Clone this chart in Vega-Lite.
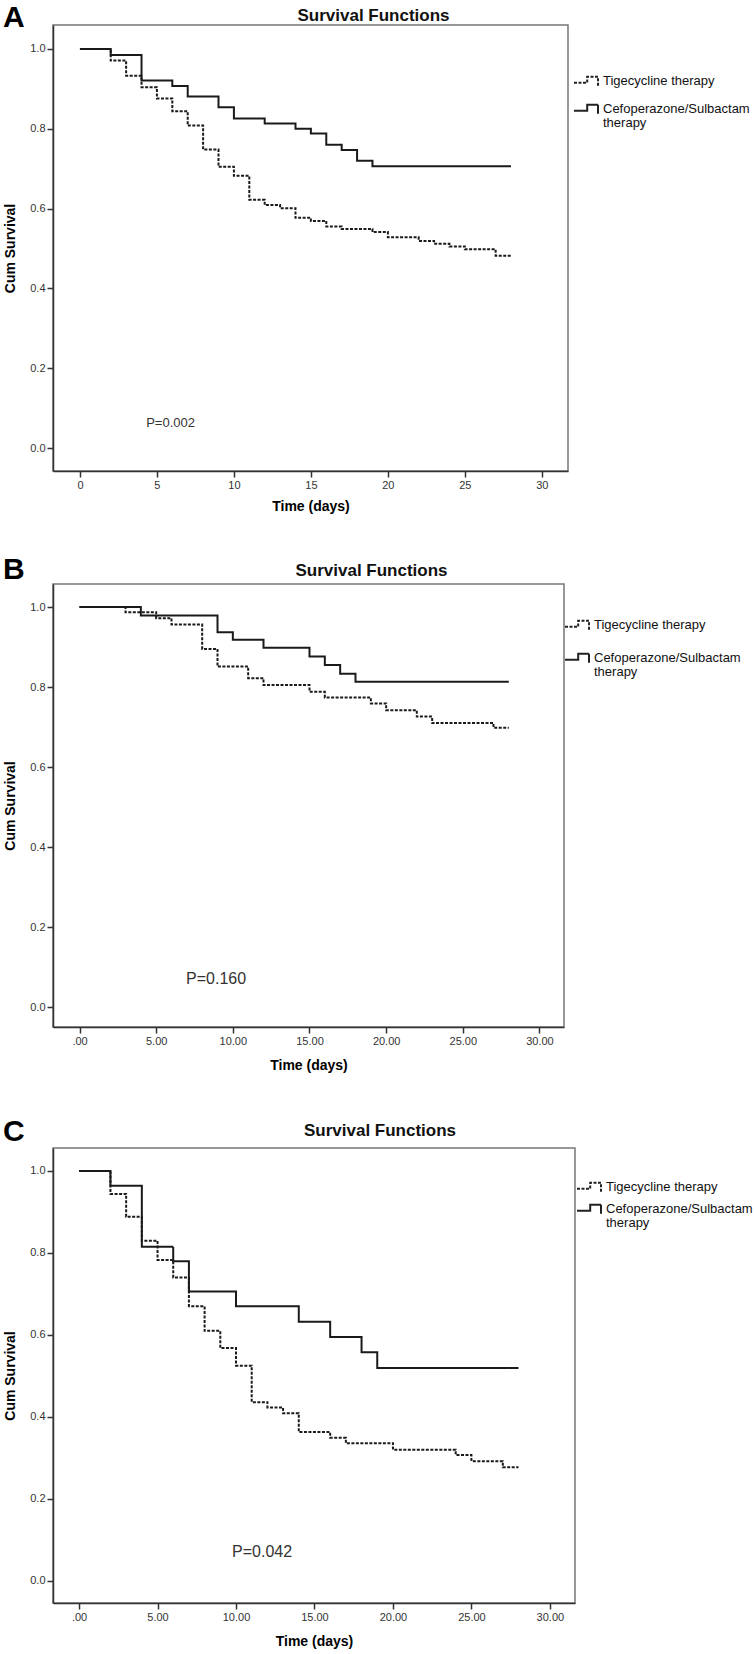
{
  "$schema": "https://vega.github.io/schema/vega-lite/v6.json",
  "padding": {"top": 3, "left": 2, "right": 0, "bottom": 0},
  "background": "white",
  "spacing": 44,
  "datasets": {
    "A": [
      {"group": "Tigecycline therapy", "time": 0, "survival": 1.0},
      {"group": "Tigecycline therapy", "time": 2, "survival": 0.971},
      {"group": "Tigecycline therapy", "time": 3, "survival": 0.933},
      {"group": "Tigecycline therapy", "time": 4, "survival": 0.904},
      {"group": "Tigecycline therapy", "time": 5, "survival": 0.876},
      {"group": "Tigecycline therapy", "time": 6, "survival": 0.844},
      {"group": "Tigecycline therapy", "time": 7, "survival": 0.808},
      {"group": "Tigecycline therapy", "time": 8, "survival": 0.748},
      {"group": "Tigecycline therapy", "time": 9, "survival": 0.705},
      {"group": "Tigecycline therapy", "time": 10, "survival": 0.682},
      {"group": "Tigecycline therapy", "time": 11, "survival": 0.622},
      {"group": "Tigecycline therapy", "time": 12, "survival": 0.609},
      {"group": "Tigecycline therapy", "time": 13, "survival": 0.601},
      {"group": "Tigecycline therapy", "time": 14, "survival": 0.577},
      {"group": "Tigecycline therapy", "time": 15, "survival": 0.569},
      {"group": "Tigecycline therapy", "time": 16, "survival": 0.555},
      {"group": "Tigecycline therapy", "time": 17, "survival": 0.549},
      {"group": "Tigecycline therapy", "time": 19, "survival": 0.541},
      {"group": "Tigecycline therapy", "time": 20, "survival": 0.528},
      {"group": "Tigecycline therapy", "time": 22, "survival": 0.519},
      {"group": "Tigecycline therapy", "time": 23, "survival": 0.512},
      {"group": "Tigecycline therapy", "time": 24, "survival": 0.505},
      {"group": "Tigecycline therapy", "time": 25, "survival": 0.498},
      {"group": "Tigecycline therapy", "time": 27, "survival": 0.482},
      {"group": "Tigecycline therapy", "time": 28, "survival": 0.482},
      {"group": "Cefoperazone/Sulbactam therapy", "time": 0, "survival": 1.0},
      {"group": "Cefoperazone/Sulbactam therapy", "time": 2, "survival": 0.985},
      {"group": "Cefoperazone/Sulbactam therapy", "time": 4, "survival": 0.921},
      {"group": "Cefoperazone/Sulbactam therapy", "time": 6, "survival": 0.907},
      {"group": "Cefoperazone/Sulbactam therapy", "time": 7, "survival": 0.881},
      {"group": "Cefoperazone/Sulbactam therapy", "time": 9, "survival": 0.854},
      {"group": "Cefoperazone/Sulbactam therapy", "time": 10, "survival": 0.826},
      {"group": "Cefoperazone/Sulbactam therapy", "time": 12, "survival": 0.813},
      {"group": "Cefoperazone/Sulbactam therapy", "time": 14, "survival": 0.8},
      {"group": "Cefoperazone/Sulbactam therapy", "time": 15, "survival": 0.788},
      {"group": "Cefoperazone/Sulbactam therapy", "time": 16, "survival": 0.76},
      {"group": "Cefoperazone/Sulbactam therapy", "time": 17, "survival": 0.747},
      {"group": "Cefoperazone/Sulbactam therapy", "time": 18, "survival": 0.72},
      {"group": "Cefoperazone/Sulbactam therapy", "time": 19, "survival": 0.706},
      {"group": "Cefoperazone/Sulbactam therapy", "time": 28, "survival": 0.706}
    ],
    "B": [
      {"group": "Tigecycline therapy", "time": 0, "survival": 1.0},
      {"group": "Tigecycline therapy", "time": 3, "survival": 0.987},
      {"group": "Tigecycline therapy", "time": 5, "survival": 0.972},
      {"group": "Tigecycline therapy", "time": 6, "survival": 0.956},
      {"group": "Tigecycline therapy", "time": 8, "survival": 0.895},
      {"group": "Tigecycline therapy", "time": 9, "survival": 0.851},
      {"group": "Tigecycline therapy", "time": 11, "survival": 0.822},
      {"group": "Tigecycline therapy", "time": 12, "survival": 0.805},
      {"group": "Tigecycline therapy", "time": 15, "survival": 0.788},
      {"group": "Tigecycline therapy", "time": 16, "survival": 0.774},
      {"group": "Tigecycline therapy", "time": 19, "survival": 0.759},
      {"group": "Tigecycline therapy", "time": 20, "survival": 0.742},
      {"group": "Tigecycline therapy", "time": 22, "survival": 0.726},
      {"group": "Tigecycline therapy", "time": 23, "survival": 0.71},
      {"group": "Tigecycline therapy", "time": 27, "survival": 0.698},
      {"group": "Tigecycline therapy", "time": 28, "survival": 0.698},
      {"group": "Cefoperazone/Sulbactam therapy", "time": 0, "survival": 1.0},
      {"group": "Cefoperazone/Sulbactam therapy", "time": 4, "survival": 0.979},
      {"group": "Cefoperazone/Sulbactam therapy", "time": 9, "survival": 0.937},
      {"group": "Cefoperazone/Sulbactam therapy", "time": 10, "survival": 0.918},
      {"group": "Cefoperazone/Sulbactam therapy", "time": 12, "survival": 0.898},
      {"group": "Cefoperazone/Sulbactam therapy", "time": 15, "survival": 0.876},
      {"group": "Cefoperazone/Sulbactam therapy", "time": 16, "survival": 0.855},
      {"group": "Cefoperazone/Sulbactam therapy", "time": 17, "survival": 0.833},
      {"group": "Cefoperazone/Sulbactam therapy", "time": 18, "survival": 0.813},
      {"group": "Cefoperazone/Sulbactam therapy", "time": 28, "survival": 0.813}
    ],
    "C": [
      {"group": "Tigecycline therapy", "time": 0, "survival": 1.0},
      {"group": "Tigecycline therapy", "time": 2, "survival": 0.944},
      {"group": "Tigecycline therapy", "time": 3, "survival": 0.888},
      {"group": "Tigecycline therapy", "time": 4, "survival": 0.83},
      {"group": "Tigecycline therapy", "time": 5, "survival": 0.783},
      {"group": "Tigecycline therapy", "time": 6, "survival": 0.74},
      {"group": "Tigecycline therapy", "time": 7, "survival": 0.67},
      {"group": "Tigecycline therapy", "time": 8, "survival": 0.61},
      {"group": "Tigecycline therapy", "time": 9, "survival": 0.568},
      {"group": "Tigecycline therapy", "time": 10, "survival": 0.525},
      {"group": "Tigecycline therapy", "time": 11, "survival": 0.436},
      {"group": "Tigecycline therapy", "time": 12, "survival": 0.423},
      {"group": "Tigecycline therapy", "time": 13, "survival": 0.409},
      {"group": "Tigecycline therapy", "time": 14, "survival": 0.363},
      {"group": "Tigecycline therapy", "time": 16, "survival": 0.349},
      {"group": "Tigecycline therapy", "time": 17, "survival": 0.336},
      {"group": "Tigecycline therapy", "time": 20, "survival": 0.32},
      {"group": "Tigecycline therapy", "time": 24, "survival": 0.307},
      {"group": "Tigecycline therapy", "time": 25, "survival": 0.292},
      {"group": "Tigecycline therapy", "time": 27, "survival": 0.277},
      {"group": "Tigecycline therapy", "time": 28, "survival": 0.277},
      {"group": "Cefoperazone/Sulbactam therapy", "time": 0, "survival": 1.0},
      {"group": "Cefoperazone/Sulbactam therapy", "time": 2, "survival": 0.964},
      {"group": "Cefoperazone/Sulbactam therapy", "time": 4, "survival": 0.815},
      {"group": "Cefoperazone/Sulbactam therapy", "time": 6, "survival": 0.78},
      {"group": "Cefoperazone/Sulbactam therapy", "time": 7, "survival": 0.706},
      {"group": "Cefoperazone/Sulbactam therapy", "time": 10, "survival": 0.67},
      {"group": "Cefoperazone/Sulbactam therapy", "time": 14, "survival": 0.632},
      {"group": "Cefoperazone/Sulbactam therapy", "time": 16, "survival": 0.595},
      {"group": "Cefoperazone/Sulbactam therapy", "time": 18, "survival": 0.558},
      {"group": "Cefoperazone/Sulbactam therapy", "time": 19, "survival": 0.519},
      {"group": "Cefoperazone/Sulbactam therapy", "time": 28, "survival": 0.519}
    ]
  },
  "resolve": {
    "scale": {"x": "independent", "y": "independent", "strokeDash": "independent"},
    "legend": {"strokeDash": "independent"}
  },
  "vconcat": [
    {
      "spacing": 41,
      "resolve": {
        "scale": {"x": "independent", "y": "independent", "strokeDash": "independent"},
        "legend": {"strokeDash": "independent"}
      },
      "vconcat": [
        {
          "title": {"text": "A", "anchor": "start", "frame": "bounds", "fontSize": 30, "fontWeight": "bold", "offset": -27, "color": "#000"},
          "vconcat": [
            {
              "title": {"text": "Survival Functions", "anchor": "middle", "frame": "group", "dx": 63, "fontSize": 17, "fontWeight": "bold", "offset": 0, "color": "#111"},
              "width": 515,
              "height": 446,
              "layer": [
                {
                  "data": {"name": "A"},
                  "mark": {"type": "line", "interpolate": "step-after", "strokeWidth": 2, "color": "#1a1a1a"},
                  "encoding": {
                    "x": {"field": "time", "type": "quantitative", "scale": {"domain": [-1.75, 31.7], "nice": false, "zero": false},
                      "axis": {"values": [0, 5, 10, 15, 20, 25, 30], "format": "d", "title": "Time (days)", "titlePadding": 9}},
                    "y": {"field": "survival", "type": "quantitative", "scale": {"domain": [-0.0576, 1.06], "nice": false, "zero": false},
                      "axis": {"values": [0, 0.2, 0.4, 0.6, 0.8, 1.0], "format": ".1f", "title": "Cum Survival"}},
                    "strokeDash": {"field": "group", "type": "nominal",
                      "scale": {"domain": ["Tigecycline therapy", "Cefoperazone/Sulbactam therapy"], "range": [[3, 1.5], [1, 0]]},
                      "legend": {"orient": "none", "legendX": 520, "legendY": 43, "rowPadding": 6,
                        "labelExpr": "datum.label == 'Cefoperazone/Sulbactam therapy' ? ['Cefoperazone/Sulbactam', 'therapy'] : datum.label",
                        "encode": {"labels": {"update": {"lineHeight": {"value": 14}}}}}}
                  }
                },
                {
                  "data": {"values": [{"label": "P=0.002"}]},
                  "mark": {"type": "text", "align": "left", "baseline": "middle", "fontSize": 13, "color": "#333"},
                  "encoding": {
                    "x": {"datum": 4.3, "type": "quantitative"},
                    "y": {"datum": 0.063, "type": "quantitative"},
                    "text": {"field": "label"}
                  }
                }
              ]
            }
          ]
        },
        {
          "title": {"text": "B", "anchor": "start", "frame": "bounds", "fontSize": 30, "fontWeight": "bold", "offset": -24, "color": "#000"},
          "vconcat": [
            {
              "title": {"text": "Survival Functions", "anchor": "middle", "frame": "group", "dx": 63, "fontSize": 17, "fontWeight": "bold", "offset": 4, "color": "#111"},
              "width": 511,
              "height": 443,
              "layer": [
                {
                  "data": {"name": "B"},
                  "mark": {"type": "line", "interpolate": "step-after", "strokeWidth": 2, "color": "#1a1a1a"},
                  "encoding": {
                    "x": {"field": "time", "type": "quantitative", "scale": {"domain": [-1.73, 31.6], "nice": false, "zero": false},
                      "axis": {"values": [0, 5, 10, 15, 20, 25, 30], "labelExpr": "datum.value == 0 ? '.00' : format(datum.value, '.2f')", "title": "Time (days)"}},
                    "y": {"field": "survival", "type": "quantitative", "scale": {"domain": [-0.05, 1.0575], "nice": false, "zero": false},
                      "axis": {"values": [0, 0.2, 0.4, 0.6, 0.8, 1.0], "format": ".1f", "title": "Cum Survival"}},
                    "strokeDash": {"field": "group", "type": "nominal",
                      "scale": {"domain": ["Tigecycline therapy", "Cefoperazone/Sulbactam therapy"], "range": [[3, 1.5], [1, 0]]},
                      "legend": {"orient": "none", "legendX": 511, "legendY": 28, "rowPadding": 11,
                        "labelExpr": "datum.label == 'Cefoperazone/Sulbactam therapy' ? ['Cefoperazone/Sulbactam', 'therapy'] : datum.label",
                        "encode": {"labels": {"update": {"lineHeight": {"value": 14}}}}}}
                  }
                },
                {
                  "data": {"values": [{"label": "P=0.160"}]},
                  "mark": {"type": "text", "align": "left", "baseline": "middle", "fontSize": 16, "color": "#333"},
                  "encoding": {
                    "x": {"datum": 6.95, "type": "quantitative"},
                    "y": {"datum": 0.07, "type": "quantitative"},
                    "text": {"field": "label"}
                  }
                }
              ]
            }
          ]
        }
      ]
    },
    {
      "title": {"text": "C", "anchor": "start", "frame": "bounds", "fontSize": 30, "fontWeight": "bold", "offset": -26, "color": "#000"},
      "vconcat": [
        {
          "title": {"text": "Survival Functions", "anchor": "middle", "frame": "group", "dx": 66, "fontSize": 17, "fontWeight": "bold", "offset": 8, "color": "#111"},
          "width": 522,
          "height": 455,
          "layer": [
            {
              "data": {"name": "C"},
              "mark": {"type": "line", "interpolate": "step-after", "strokeWidth": 2, "color": "#1a1a1a"},
              "encoding": {
                "x": {"field": "time", "type": "quantitative", "scale": {"domain": [-1.66, 31.6], "nice": false, "zero": false},
                  "axis": {"values": [0, 5, 10, 15, 20, 25, 30], "labelExpr": "datum.value == 0 ? '.00' : format(datum.value, '.2f')", "title": "Time (days)"}},
                "y": {"field": "survival", "type": "quantitative", "scale": {"domain": [-0.054, 1.056], "nice": false, "zero": false},
                  "axis": {"values": [0, 0.2, 0.4, 0.6, 0.8, 1.0], "format": ".1f", "title": "Cum Survival"}},
                "strokeDash": {"field": "group", "type": "nominal",
                  "scale": {"domain": ["Tigecycline therapy", "Cefoperazone/Sulbactam therapy"], "range": [[3, 1.5], [1, 0]]},
                  "legend": {"orient": "none", "legendX": 523, "legendY": 26, "rowPadding": -7,
                    "labelExpr": "datum.label == 'Cefoperazone/Sulbactam therapy' ? ['Cefoperazone/Sulbactam', 'therapy'] : datum.label",
                    "encode": {"labels": {"update": {"lineHeight": {"value": 14}}}}}}
              }
            },
            {
              "data": {"values": [{"label": "P=0.042"}]},
              "mark": {"type": "text", "align": "left", "baseline": "middle", "fontSize": 16, "color": "#333"},
              "encoding": {
                "x": {"datum": 9.75, "type": "quantitative"},
                "y": {"datum": 0.071, "type": "quantitative"},
                "text": {"field": "label"}
              }
            }
          ]
        }
      ]
    }
  ],
  "config": {
    "font": "Liberation Sans",
    "view": {"stroke": "#777", "strokeWidth": 1.5},
    "axis": {
      "grid": false,
      "domainColor": "#333",
      "domainWidth": 1.5,
      "tickColor": "#333",
      "tickSize": 6,
      "tickWidth": 1.5,
      "labelFontSize": 11,
      "labelColor": "#333",
      "labelPadding": 2,
      "titleFontSize": 14,
      "titleFontWeight": "bold",
      "titleColor": "#000",
      "titlePadding": 12
    },
    "legend": {
      "title": null,
      "symbolType": "M-1,0.15H0.1V-0.35H1V0.4",
      "symbolSize": 576,
      "symbolStrokeWidth": 2,
      "symbolStrokeColor": "#222",
      "symbolFillColor": "transparent",
      "labelFontSize": 13,
      "labelColor": "#111",
      "labelOffset": 4,
      "labelLimit": 0,
      "padding": 0
    }
  }
}
